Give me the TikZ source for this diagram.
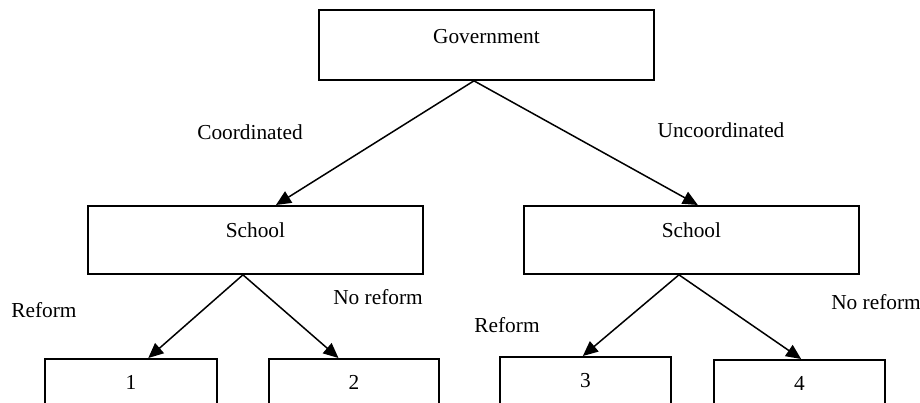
\documentclass[tikz,border=0pt]{standalone}
\usepackage{fontspec}
\setmainfont{Liberation Serif}
\usetikzlibrary{arrows.meta,calc}
\tikzset{
  px/.style={x=0.6pt,y=-0.6pt},
  box/.style={draw,line width=1.1pt,rectangle,inner sep=0pt,anchor=north west,font=\fontsize{12.8}{15}\selectfont},
  lbl/.style={inner sep=0pt,font=\fontsize{12.8}{15}\selectfont},
  arr/.style={line width=0.9pt,-{Triangle[length=9pt,width=8pt]}}
}
\begin{document}
\begin{tikzpicture}[px]
\useasboundingbox (0,0) rectangle (920,402);
\clip (0,0) rectangle (920,402);
\node[box,minimum width=201pt,text height=20.4pt,text depth=21.6pt] (gov) at (318,9) {Government};
\node[box,minimum width=201pt,text height=19.2pt,text depth=21.6pt] (s1) at (87,205) {School};
\node[box,minimum width=201pt,text height=19.2pt,text depth=21.6pt] (s2) at (523,205) {School};
\node[box,minimum width=103.2pt,text height=18.6pt,text depth=12pt] (b1) at (44,358) {1};
\node[box,minimum width=102pt,text height=18.6pt,text depth=12pt] (b2) at (268,358) {2};
\node[box,minimum width=102.6pt,text height=18.6pt,text depth=12pt] (b3) at (499,356) {3};
\node[box,minimum width=102.6pt,text height=18.6pt,text depth=12pt] (b4) at (713,359) {4};
\node[lbl] (lc) at (250,132) {Coordinated};
\node[lbl] (lu) at (721,130) {Uncoordinated};
\node[lbl] (lr1) at (44,310) {Reform};
\node[lbl] (ln1) at (378,297) {No reform};
\node[lbl] (lr2) at (507,325) {Reform};
\node[lbl] (ln2) at (876,302) {No reform};
\coordinate (ga) at ($(gov.south west)!0.463!(gov.south east)$);
\coordinate (s1a) at ($(s1.south west)!0.463!(s1.south east)$);
\coordinate (s2a) at ($(s2.south west)!0.463!(s2.south east)$);
\draw[arr] (ga) -- ($(s1.north west)!0.561!(s1.north east)$);
\draw[arr] (ga) -- ($(s2.north west)!0.519!(s2.north east)$);
\draw[arr] (s1a) -- ($(b1.north west)!0.6!(b1.north east)$);
\draw[arr] (s1a) -- ($(b2.north west)!0.41!(b2.north east)$);
\draw[arr] (s2a) -- ($(b3.north west)!0.485!(b3.north east)$);
\draw[arr] (s2a) -- ($(b4.north west)!0.51!(b4.north east)$);
\end{tikzpicture}
\end{document}
